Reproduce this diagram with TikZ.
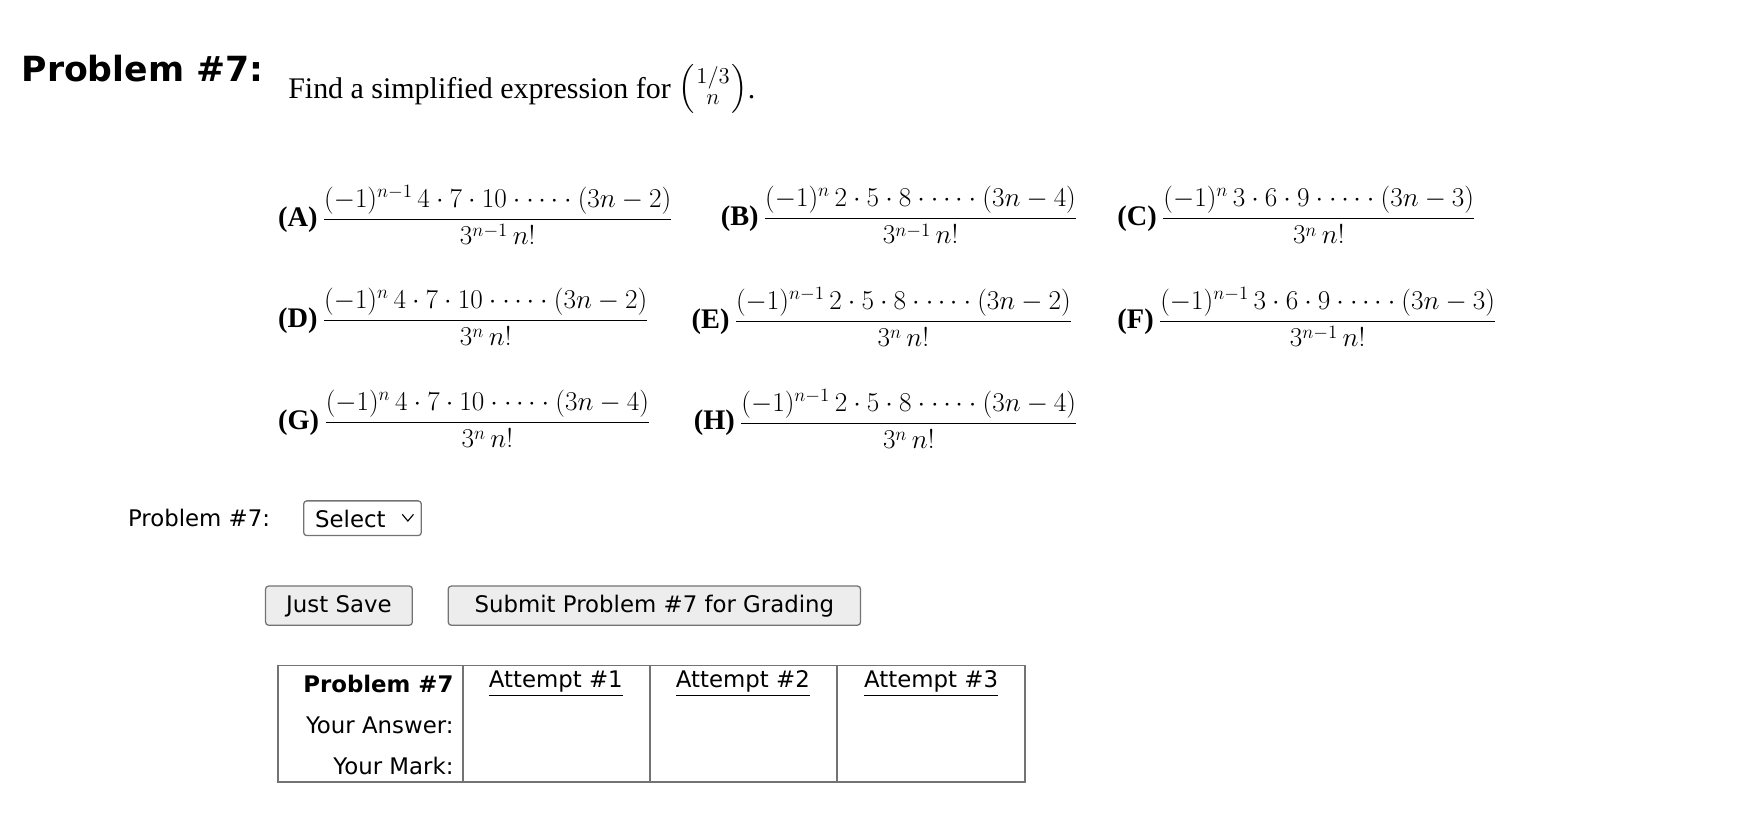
\documentclass[tikz,border=0pt]{standalone}
\usepackage{amsmath}
\usepackage{fontspec}
\setmainfont{Liberation Serif}
\newfontfamily\uifont{DejaVu Sans}
\begin{document}
\begin{tikzpicture}[x=0.025cm,y=-0.025cm,
  body/.style={inner sep=0pt,font=\fontsize{19}{22}\selectfont},
  opt/.style={inner sep=0pt,anchor=west,font=\fontsize{18}{22}\selectfont},
  ui/.style={inner sep=0pt,font=\uifont\fontsize{14.5}{17}\selectfont},
  btn/.style={draw=black!55,fill=black!7,rounded corners=2pt,line width=0.8pt},
  tline/.style={draw=black!55,line width=1pt}]
\useasboundingbox (0,0) rectangle (1560,732);
\node[inner sep=0pt,anchor=west,font=\uifont\bfseries\fontsize{22}{26}\selectfont] (title) at (19,61) {Problem \#7:};
\node[body,anchor=west] (q) at (257,79) {Find a simplified expression for \raisebox{2pt}{$\Bigl(\genfrac{}{}{0pt}{1}{1/3}{n}\Bigr)$}.};
% row 1
\node[opt] (A) at (248,192) {\textbf{(A)}\,$\dfrac{(-1)^{n-1}\,4\cdot7\cdot10\cdot\cdots\cdot(3n-2)}{3^{n-1}\,n!}$};
\node[opt] (B) at (643,192) {\textbf{(B)}\,$\dfrac{(-1)^{n}\,2\cdot5\cdot8\cdot\cdots\cdot(3n-4)}{3^{n-1}\,n!}$};
\node[opt] (C) at (997,192) {\textbf{(C)}\,$\dfrac{(-1)^{n}\,3\cdot6\cdot9\cdot\cdots\cdot(3n-3)}{3^{n}\,n!}$};
% row 2
\node[opt] (D) at (248,283) {\textbf{(D)}\,$\dfrac{(-1)^{n}\,4\cdot7\cdot10\cdot\cdots\cdot(3n-2)}{3^{n}\,n!}$};
\node[opt] (E) at (617,283) {\textbf{(E)}\,$\dfrac{(-1)^{n-1}\,2\cdot5\cdot8\cdot\cdots\cdot(3n-2)}{3^{n}\,n!}$};
\node[opt] (F) at (997,283) {\textbf{(F)}\,$\dfrac{(-1)^{n-1}\,3\cdot6\cdot9\cdot\cdots\cdot(3n-3)}{3^{n-1}\,n!}$};
% row 3
\node[opt] (G) at (248,374) {\textbf{(G)}\,$\dfrac{(-1)^{n}\,4\cdot7\cdot10\cdot\cdots\cdot(3n-4)}{3^{n}\,n!}$};
\node[opt] (H) at (619,374) {\textbf{(H)}\,$\dfrac{(-1)^{n-1}\,2\cdot5\cdot8\cdot\cdots\cdot(3n-4)}{3^{n}\,n!}$};
% select
\node[ui,anchor=west] (pl) at (114,462) {Problem \#7:};
\draw[draw=black!55,rounded corners=2pt,line width=0.8pt] (271,447) rectangle (376,478);
\node[ui,anchor=west] (sel) at (281,463) {Select};
\draw[line width=0.7pt] (359,459) -- (364,465) -- (369,459);
% buttons
\draw[btn] (237,523) rectangle (368,558);
\node[ui] (js) at (302.5,541) {Just Save};
\draw[btn] (400,523) rectangle (768,558);
\node[ui] (sub) at (584,541) {Submit Problem \#7 for Grading};
% table
\draw[tline] (248,594) rectangle (915,698);
\draw[tline] (413,594) -- (413,698);
\draw[tline] (580,594) -- (580,698);
\draw[tline] (747,594) -- (747,698);
\node[ui,anchor=east,font=\uifont\bfseries\fontsize{14.5}{17}\selectfont] (h0) at (405,610) {Problem \#7};
\node[ui] (h1) at (496,610) {\underline{Attempt \#1}};
\node[ui] (h2) at (663,610) {\underline{Attempt \#2}};
\node[ui] (h3) at (831,610) {\underline{Attempt \#3}};
\node[ui,anchor=east] (r1) at (405,647) {Your Answer:};
\node[ui,anchor=east] (r2) at (405,684) {Your Mark:};
\end{tikzpicture}
\end{document}
